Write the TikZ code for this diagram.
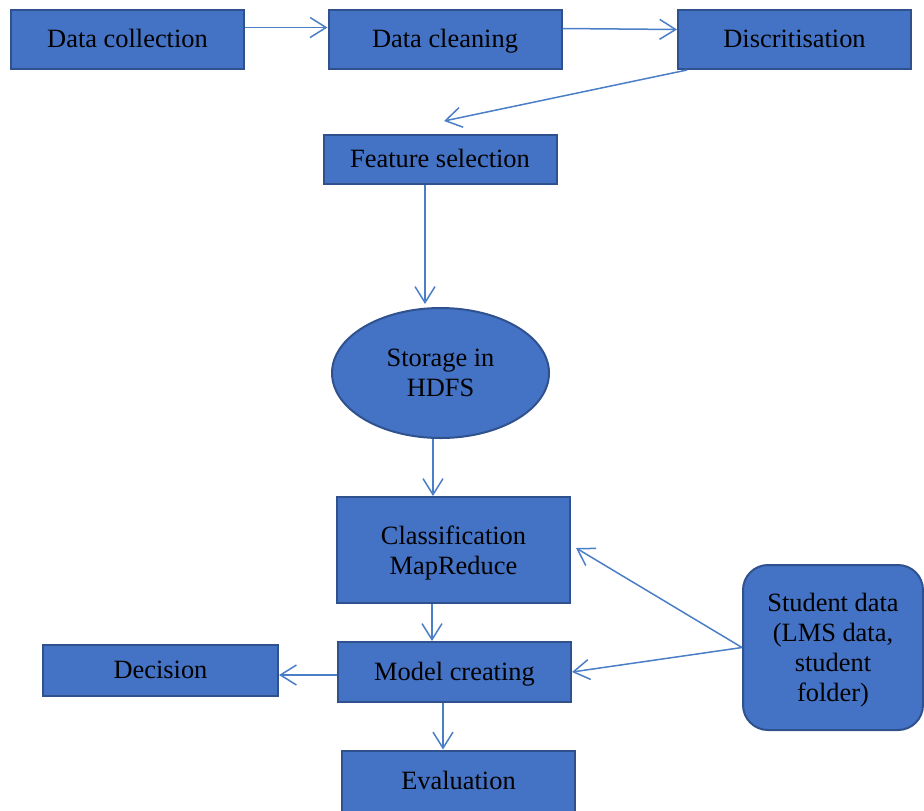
\documentclass[tikz,border=0pt]{standalone}
\usepackage{fontspec}
\setmainfont{Liberation Serif}
\usepackage{xcolor}
\usetikzlibrary{positioning,arrows.meta,shapes.geometric}
\definecolor{boxblue}{HTML}{4472C4}
\definecolor{edgeblue}{HTML}{2F528F}
\definecolor{arrowblue}{HTML}{4A7EC6}

\begin{document}
\begin{tikzpicture}[x=0.5pt,y=-0.5pt,
  font=\fontsize{13.2}{15}\selectfont,
  box/.style={draw=edgeblue,line width=1pt,fill=boxblue,minimum width=116.5pt,minimum height=29.5pt,align=center,inner sep=2pt},
  oneline/.style={text height=0.82em,text depth=0pt},
  store/.style={ellipse,draw=edgeblue,line width=1pt,fill=boxblue,minimum width=108.5pt,minimum height=65pt,align=center,inner sep=0pt},
  source/.style={draw=edgeblue,line width=1pt,fill=boxblue,rounded corners=12.5pt,minimum width=90pt,minimum height=82.5pt,align=center,inner sep=2pt,text depth=0pt},
  arr/.style={-{Straight Barb[length=8pt,width=10pt]},line width=0.75pt,color=arrowblue}
]
  \useasboundingbox (0,0) rectangle (924,810);
  % top row
  \node[box,oneline] (dc) at (127.5,39.5) {Data collection};
  \node[box,oneline,right=41.25pt of dc] (cl) {Data cleaning};
  \node[box,oneline,right=57.25pt of cl] (ds) {Discritisation};
  % main column
  \coordinate (fsin) at (444,121);
  \node[box,oneline,minimum height=24.5pt] (fs) at (440,159.5) {Feature selection};
  \node[store] (st) at (440.5,373) {Storage in\\HDFS};
  \node[box,minimum height=53pt,text depth=0pt] (cls) at (453.5,550) {Classification\\MapReduce};
  \node[box,oneline,minimum height=30pt] (mc) at (454.5,672) {Model creating};
  \node[box,oneline,minimum width=117.5pt,minimum height=25.5pt] (dec) at (160.5,670.5) {Decision};
  \node[box,oneline,minimum height=30.5pt] (ev) at (458.5,781) {Evaluation};
  \node[source] (sd) at (833,647.5) {Student data\\(LMS data,\\student\\folder)};
  % connectors
  \draw[arr] ([yshift=6pt]dc.east) -- ([yshift=6pt]cl.west);
  \draw[arr] ([yshift=5.5pt]cl.east) -- ([yshift=5pt]ds.west);
  \draw[arr] ([xshift=5pt]ds.south west) -- (fsin);
  \draw[arr] ([xshift=-7.5pt]fs.south) -- ([xshift=-7.75pt,yshift=1.5pt]st.north);
  \draw[arr] ([xshift=-3.75pt]st.south) -- ([xshift=-10.25pt]cls.north);
  \draw[arr] ([xshift=-10.75pt]cls.south) -- ([xshift=-11.25pt]mc.north);
  \draw[arr] ([xshift=-5.75pt]mc.south) -- ([xshift=-7.75pt]ev.north);
  \draw[arr] ([yshift=-1.5pt]mc.west) -- ([yshift=-2.25pt]dec.east);
  \draw[arr] (sd.west) -- ([xshift=2.5pt,yshift=1pt]cls.east);
  \draw[arr] (sd.west) -- (mc.east);
\end{tikzpicture}
\end{document}
